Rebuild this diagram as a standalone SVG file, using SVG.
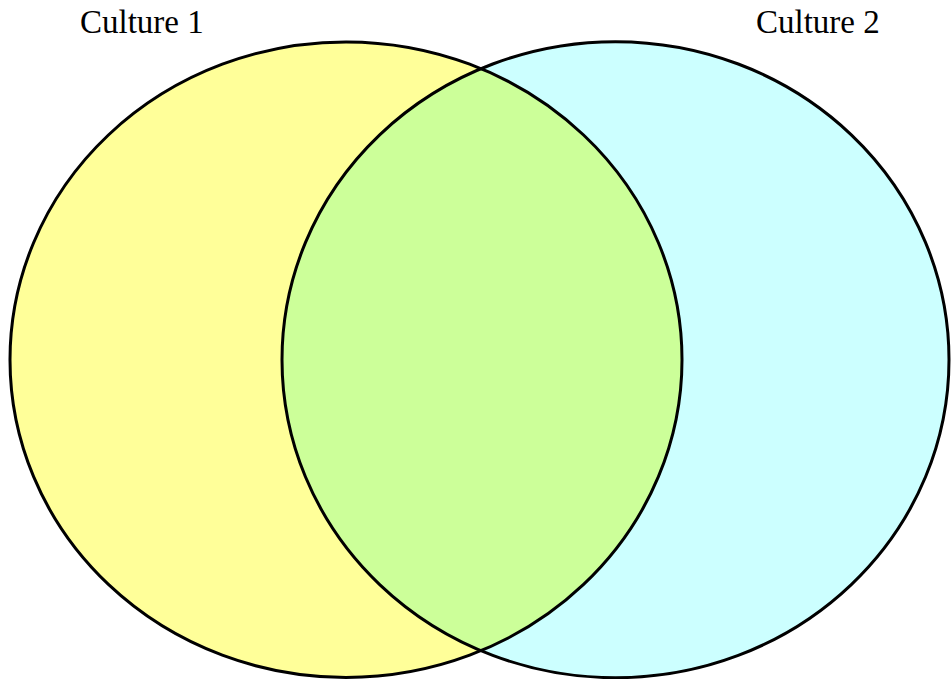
<svg xmlns="http://www.w3.org/2000/svg" width="951" height="679" viewBox="0 0 951 679">
<style>
.lbl{font-family:"Liberation Serif","Times New Roman",serif;font-size:33px;fill:#000}
.edge{fill:none;stroke:#000;stroke-width:3}
</style>
<defs>
<clipPath id="clipL"><ellipse cx="346" cy="359.7" rx="336" ry="317.8"/></clipPath>
</defs>
<rect width="951" height="679" fill="#fff"/>
<g id="culture1">
<ellipse cx="346" cy="359.7" rx="336" ry="317.8" fill="#FFFF99"/>
</g>
<g id="culture2">
<ellipse cx="615.5" cy="359.7" rx="333.5" ry="318" fill="#CCFFFF"/>
</g>
<g id="overlap">
<ellipse cx="615.5" cy="359.7" rx="333.5" ry="318" fill="#CCFF99" clip-path="url(#clipL)"/>
</g>
<g id="outlines">
<ellipse class="edge" cx="346" cy="359.7" rx="336" ry="317.8"/>
<ellipse class="edge" cx="615.5" cy="359.7" rx="333.5" ry="318"/>
</g>
<g id="labels">
<text class="lbl" x="80" y="33">Culture 1</text>
<text class="lbl" x="756" y="33">Culture 2</text>
</g>
</svg>
